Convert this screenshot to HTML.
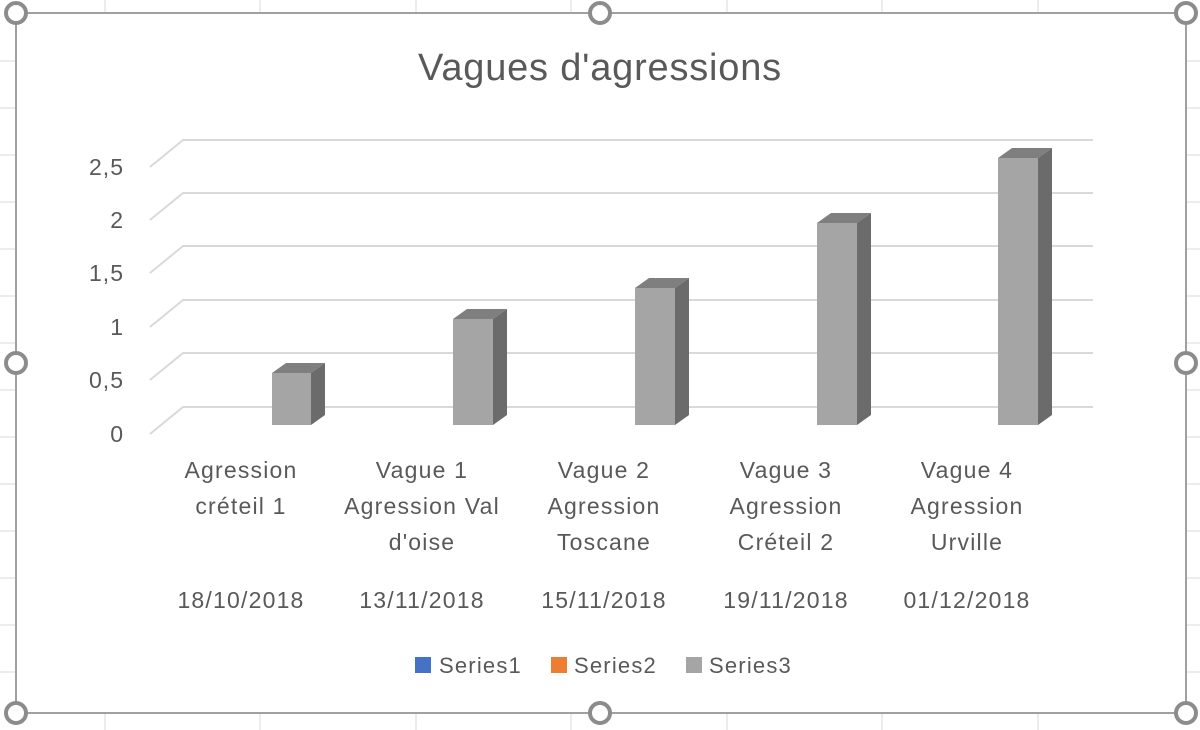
<!DOCTYPE html>
<html><head><meta charset="utf-8"><style>
html,body{margin:0;padding:0;background:#fff;width:1200px;height:730px;overflow:hidden}
text{font-family:"Liberation Sans",sans-serif;fill:#595959}
</style></head><body>
<svg width="1200" height="730" viewBox="0 0 1200 730" xmlns="http://www.w3.org/2000/svg">
<g stroke="#d9d9d9" stroke-width="1">
<line x1="105" y1="0" x2="105" y2="13"/><line x1="260" y1="0" x2="260" y2="13"/><line x1="416" y1="0" x2="416" y2="13"/><line x1="571" y1="0" x2="571" y2="13"/><line x1="727" y1="0" x2="727" y2="13"/><line x1="882" y1="0" x2="882" y2="13"/><line x1="1038" y1="0" x2="1038" y2="13"/>
<line x1="105" y1="713" x2="105" y2="730"/><line x1="260" y1="713" x2="260" y2="730"/><line x1="416" y1="713" x2="416" y2="730"/><line x1="571" y1="713" x2="571" y2="730"/><line x1="727" y1="713" x2="727" y2="730"/><line x1="882" y1="713" x2="882" y2="730"/><line x1="1038" y1="713" x2="1038" y2="730"/>
<line x1="0" y1="61" x2="16" y2="61"/><line x1="0" y1="108" x2="16" y2="108"/><line x1="0" y1="155" x2="16" y2="155"/><line x1="0" y1="202" x2="16" y2="202"/><line x1="0" y1="249" x2="16" y2="249"/><line x1="0" y1="296" x2="16" y2="296"/><line x1="0" y1="343" x2="16" y2="343"/><line x1="0" y1="390" x2="16" y2="390"/><line x1="0" y1="437" x2="16" y2="437"/><line x1="0" y1="484" x2="16" y2="484"/><line x1="0" y1="531" x2="16" y2="531"/><line x1="0" y1="578" x2="16" y2="578"/><line x1="0" y1="625" x2="16" y2="625"/><line x1="0" y1="672" x2="16" y2="672"/>
<line x1="1186" y1="61" x2="1200" y2="61"/><line x1="1186" y1="108" x2="1200" y2="108"/><line x1="1186" y1="155" x2="1200" y2="155"/><line x1="1186" y1="202" x2="1200" y2="202"/><line x1="1186" y1="249" x2="1200" y2="249"/><line x1="1186" y1="296" x2="1200" y2="296"/><line x1="1186" y1="343" x2="1200" y2="343"/><line x1="1186" y1="390" x2="1200" y2="390"/><line x1="1186" y1="437" x2="1200" y2="437"/><line x1="1186" y1="484" x2="1200" y2="484"/><line x1="1186" y1="531" x2="1200" y2="531"/><line x1="1186" y1="578" x2="1200" y2="578"/><line x1="1186" y1="625" x2="1200" y2="625"/><line x1="1186" y1="672" x2="1200" y2="672"/>
</g>
<rect x="16" y="13" width="1170" height="700" fill="#fff" stroke="#a0a0a0" stroke-width="2"/>
<text x="600" y="80" font-size="38" letter-spacing="0.8" text-anchor="middle">Vagues d'agressions</text>
<g stroke="#d9d9d9" stroke-width="2" fill="none">
<polyline points="150,167 183,140 1093,140"/>
<polyline points="150,220 183,193 1093,193"/>
<polyline points="150,273 183,246 1093,246"/>
<polyline points="150,327 183,300 1093,300"/>
<polyline points="150,380 183,353 1093,353"/>
<polyline points="150,434 183,407 1093,407"/>
</g>
<g font-size="23" text-anchor="end" letter-spacing="1">
<text x="124" y="175">2,5</text><text x="124" y="228">2</text><text x="124" y="281">1,5</text><text x="124" y="335">1</text><text x="124" y="388">0,5</text><text x="124" y="442">0</text>
</g>
<g>
<polygon points="272,373 286,363 325,363 311,373" fill="#7f7f7f"/><polygon points="311,373 325,363 325,415 311,425" fill="#6b6b6b"/><rect x="272" y="373" width="39" height="52" fill="#a5a5a5"/>
<polygon points="453,319 467,309 507,309 493,319" fill="#7f7f7f"/><polygon points="493,319 507,309 507,415 493,425" fill="#6b6b6b"/><rect x="453" y="319" width="40" height="106" fill="#a5a5a5"/>
<polygon points="635,288 649,278 689,278 675,288" fill="#7f7f7f"/><polygon points="675,288 689,278 689,415 675,425" fill="#6b6b6b"/><rect x="635" y="288" width="40" height="137" fill="#a5a5a5"/>
<polygon points="817,223 831,213 871,213 857,223" fill="#7f7f7f"/><polygon points="857,223 871,213 871,415 857,425" fill="#6b6b6b"/><rect x="817" y="223" width="40" height="202" fill="#a5a5a5"/>
<polygon points="998,158 1012,148 1052,148 1038,158" fill="#7f7f7f"/><polygon points="1038,158 1052,148 1052,415 1038,425" fill="#6b6b6b"/><rect x="998" y="158" width="40" height="267" fill="#a5a5a5"/>
</g>
<g font-size="23" text-anchor="middle" letter-spacing="1.2">
<text x="241" y="478">Agression</text><text x="241" y="514">créteil 1</text>
<text x="422" y="478">Vague 1</text><text x="422" y="514">Agression Val</text><text x="422" y="550">d'oise</text>
<text x="604" y="478">Vague 2</text><text x="604" y="514">Agression</text><text x="604" y="550">Toscane</text>
<text x="786" y="478">Vague 3</text><text x="786" y="514">Agression</text><text x="786" y="550">Créteil 2</text>
<text x="967" y="478">Vague 4</text><text x="967" y="514">Agression</text><text x="967" y="550">Urville</text>
<text x="241" y="608">18/10/2018</text><text x="422" y="608">13/11/2018</text><text x="604" y="608">15/11/2018</text><text x="786" y="608">19/11/2018</text><text x="967" y="608">01/12/2018</text>
</g>
<g font-size="22" letter-spacing="1.2">
<rect x="415" y="657" width="16" height="16" fill="#4472c4"/><text x="439" y="673">Series1</text>
<rect x="551" y="657" width="16" height="16" fill="#ed7d31"/><text x="574" y="673">Series2</text>
<rect x="686" y="657" width="16" height="16" fill="#a5a5a5"/><text x="709" y="673">Series3</text>
</g>
<g fill="#fff" stroke="#8c8c8c" stroke-width="4">
<circle cx="16" cy="13" r="10"/><circle cx="600" cy="13" r="10"/><circle cx="1186" cy="13" r="10"/>
<circle cx="16" cy="363" r="10"/><circle cx="1186" cy="363" r="10"/>
<circle cx="16" cy="713" r="10"/><circle cx="600" cy="713" r="10"/><circle cx="1186" cy="713" r="10"/>
</g>
</svg>
</body></html>
